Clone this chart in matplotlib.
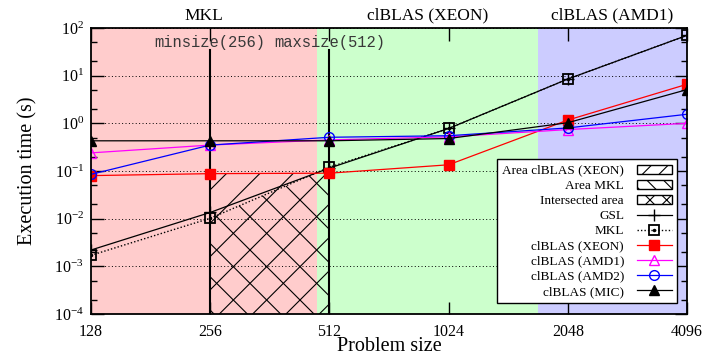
import numpy as np
import matplotlib
matplotlib.use('Agg')
import matplotlib.pyplot as plt
from matplotlib.patches import Patch
from matplotlib.legend_handler import HandlerTuple
from matplotlib.ticker import LogLocator, LogFormatterMathtext, NullLocator

plt.rcParams['font.family'] = ['Liberation Serif', 'DejaVu Serif']
plt.rcParams['mathtext.fontset'] = 'stix'
plt.rcParams['hatch.linewidth'] = 0.8

# 資料
sizes = [128, 256, 512, 1024, 2048, 4096]
gsl = [0.0022, 0.0135, 0.115, 0.78, 8.5, 70]
mkl = [0.0017, 0.0102, 0.120, 0.78, 8.5, 70]
xeon = [0.08, 0.088, 0.09, 0.135, 1.17, 6.6]
amd1 = [0.24, 0.35, 0.45, 0.52, 0.74, 1.0]
amd2 = [0.085, 0.35, 0.51, 0.55, 0.80, 1.55]
mic = [0.43, 0.43, 0.43, 0.48, 1.03, 5.1]
yticks = [1e-4, 1e-3, 1e-2, 1e-1, 1e0, 1e1, 1e2]

region_edges = [128, 476, 1722, 4096]
region_names = ['MKL', 'clBLAS (XEON)', 'clBLAS (AMD1)']
region_colors = ['#ffcccc', '#ccffcc', '#ccccff']

minsize, maxsize = 256, 512

fig = plt.figure(figsize=(7.03, 3.56), dpi=100)
ax = fig.add_axes([91/703, 42/356, 596/703, 286/356])
ax.set_xscale('log', base=2)
ax.set_yscale('log')
ax.set_xlim(128, 4096)
ax.set_ylim(1e-4, 1e2)

# 背景區域
for i in range(3):
    ax.axvspan(region_edges[i], region_edges[i+1], color=region_colors[i], lw=0, zorder=0)
    c = np.sqrt(region_edges[i] * region_edges[i+1])
    ax.text(c, 1.015, region_names[i], transform=ax.get_xaxis_transform(),
            ha='center', va='bottom', fontsize=12.5)

# 斜線區域
i0, i1 = sizes.index(minsize), sizes.index(maxsize) + 1
ax.fill_between(sizes[i0:i1], 1e-4, xeon[i0:i1], facecolor='none', edgecolor='k',
                hatch='/', lw=0, zorder=1.2)
ax.fill_between(sizes[i0:i1], 1e-4, mkl[i0:i1], facecolor='none', edgecolor='k',
                hatch='\\', lw=0, zorder=1.2)

ax.yaxis.grid(True, which='major', linestyle=(0, (1, 2.5)), color='k', lw=0.7)

# minsize / maxsize
for s in [minsize, maxsize]:
    ax.axvline(s, ymin=0, ymax=0.923, color='k', lw=1.5, zorder=3)
ax.text(minsize, 0.948, 'minsize(%d)' % minsize, transform=ax.get_xaxis_transform(),
        ha='center', va='center', family='Liberation Mono', fontsize=11.2, color='#383838', zorder=6)
ax.text(maxsize, 0.948, 'maxsize(%d)' % maxsize, transform=ax.get_xaxis_transform(),
        ha='center', va='center', family='Liberation Mono', fontsize=11.2, color='#383838', zorder=6)

# 曲線
l_gsl, = ax.plot(sizes, gsl, color='k', lw=0.9, marker='+', ms=8, mew=1, zorder=4)
l_mkl, = ax.plot(sizes, mkl, color='k', lw=1.0, ls=(0, (1, 1.5)), marker='s', ms=7,
                 mfc='none', mew=1.3, zorder=4)
l_mkl2, = ax.plot(sizes, mkl, ls='none', marker='.', color='k', ms=3, zorder=4)
l_xeon, = ax.plot(sizes, xeon, color='#ff0000', lw=0.9, marker='s', ms=7, zorder=4)
l_amd1, = ax.plot(sizes, amd1, color='#ff00ff', lw=0.9, marker='^', ms=7, mfc='none', zorder=4)
l_amd2, = ax.plot(sizes, amd2, color='#0000ff', lw=0.9, marker='o', ms=7, mfc='none', zorder=4)
l_mic, = ax.plot(sizes, mic, color='k', lw=0.9, marker='^', ms=6.5, zorder=4)

# 座標軸
ax.set_xticks(sizes)
ax.set_xticklabels([str(s) for s in sizes])
ax.xaxis.set_minor_locator(NullLocator())
ax.set_yticks(yticks)
ax.yaxis.set_minor_locator(LogLocator(base=10, subs=[2, 5], numticks=10))
ax.yaxis.set_major_formatter(LogFormatterMathtext())
ax.set_ylim(1e-4, 1e2)
ax.tick_params(which='both', direction='in', top=True, right=True, width=1)
ax.tick_params(which='major', length=9, labelsize=11.5, pad=5)
ax.tick_params(which='minor', length=4)
ax.tick_params(axis='x', pad=7)
for sp in ax.spines.values():
    sp.set_linewidth(1.3)
    sp.set_zorder(7)

ax.set_xlabel('Problem size', fontsize=14.5, labelpad=-2)
ax.set_ylabel('Execution time (s)', fontsize=14.5, labelpad=12)

handles = [Patch(facecolor='white', edgecolor='k', hatch='//'),
           Patch(facecolor='white', edgecolor='k', hatch='\\\\'),
           Patch(facecolor='white', edgecolor='k', hatch='xx'),
           l_gsl, (l_mkl, l_mkl2), l_xeon, l_amd1, l_amd2, l_mic]
labels = ['Area clBLAS (XEON)', 'Area MKL', 'Intersected area', 'GSL', 'MKL',
          'clBLAS (XEON)', 'clBLAS (AMD1)', 'clBLAS (AMD2)', 'clBLAS (MIC)']
leg = ax.legend(handles, labels, loc='lower right', bbox_to_anchor=(0.983, 0.038),
                fontsize=9.5, markerfirst=False, fancybox=False, framealpha=1,
                edgecolor='k', borderpad=0.4, labelspacing=0.22, handlelength=2.6,
                handletextpad=1.0, borderaxespad=0,
                handler_map={tuple: HandlerTuple(ndivide=1)})
leg.get_frame().set_linewidth(1.0)
leg.set_zorder(8)

fig.savefig('out.png', dpi=100)
